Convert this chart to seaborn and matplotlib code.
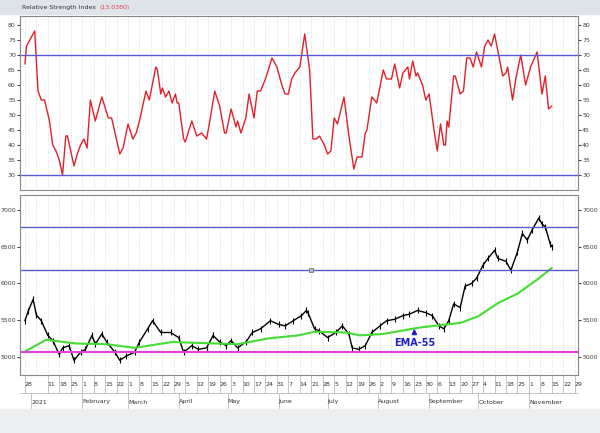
import matplotlib
matplotlib.use("Agg")
import matplotlib.pyplot as plt
import numpy as np
import pandas as pd
import seaborn as sns

START = pd.Timestamp("2020-12-28")

# RSI(13): days since 28 Dec 2020 and value
rsi_day = [0, 1, 6, 8, 10, 12, 15, 17, 19, 21, 23, 25, 26, 28, 30, 32, 34, 36, 38, 40, 43, 47, 51, 53,
           58, 60, 63, 66, 68, 70, 74, 76, 80, 81, 83, 84, 86, 88, 90, 92, 93, 94, 97, 98, 102, 105,
           108, 111, 113, 116, 119, 122, 123, 126, 129, 130, 132, 135, 137, 140, 142, 144, 147, 151,
           154, 157, 159, 161, 163, 165, 168, 171, 174, 176, 178, 180, 183, 185, 187, 189, 191, 195,
           198, 201, 203, 206, 208, 209, 212, 215, 219, 221, 224, 226, 229, 231, 234, 235, 237, 239,
           240, 243, 245, 247, 250, 252, 254, 256, 257, 258, 259, 262, 263, 266, 268, 270, 272, 274,
           276, 279, 281, 283, 285, 287, 292, 294, 295, 298, 300, 303, 306, 309, 313, 316, 318, 320, 322]
rsi_val = [67, 73, 78, 58, 55, 55, 48, 40, 38, 35, 30, 43, 43, 38, 33, 37, 40, 42, 39, 55, 48, 56, 49, 49,
           37, 39, 47, 42, 44, 48, 58, 55, 66, 65, 57, 59, 56, 58, 54, 57, 54, 54, 42, 41, 48, 43,
           44, 42, 48, 58, 53, 44, 44, 52, 46, 48, 44, 49, 57, 49, 58, 58, 62, 69,
           66, 60, 57, 57, 62, 64, 66, 77, 65, 42, 42, 43, 40, 37, 38, 49, 47, 56,
           43, 32, 36, 36, 44, 45, 56, 54, 65, 62, 62, 67, 59, 64, 66, 62, 68, 63,
           64, 60, 55, 57, 45, 38, 47, 40, 40, 48, 46, 63, 63, 57, 58, 69, 69, 66,
           71, 66, 73, 75, 73, 77, 63, 64, 66, 55, 62, 70, 60, 66, 71, 57, 63, 52, 53]

# closing price
px_day = [0, 2, 5, 7, 10, 14, 17, 21, 23, 27, 30, 34, 37, 41, 43, 47, 50, 55, 58, 62, 67, 70, 75, 78,
          83, 89, 94, 97, 102, 106, 111, 115, 119, 123, 126, 130, 135, 139, 144, 150, 155, 159, 164,
          169, 172, 173, 177, 180, 185, 190, 194, 198, 200, 204, 208, 212, 217, 221, 226, 231, 235,
          240, 245, 249, 253, 256, 259, 262, 266, 269, 273, 276, 280, 283, 287, 289, 294, 297, 301,
          304, 307, 310, 314, 316, 318, 321, 322]
px_val = [5490, 5620, 5780, 5570, 5490, 5290, 5220, 5030, 5120, 5150, 4950, 5060, 5100, 5290, 5170, 5310,
          5200, 5060, 4950, 5010, 5060, 5200, 5380, 5490, 5330, 5330, 5260, 5060, 5150, 5100, 5120, 5290,
          5200, 5150, 5220, 5120, 5200, 5330, 5380, 5490, 5440, 5420, 5490, 5560, 5630, 5600, 5380, 5350,
          5260, 5330, 5420, 5310, 5120, 5100, 5150, 5330, 5420, 5490, 5510, 5560, 5580, 5630, 5600, 5560,
          5420, 5380, 5490, 5720, 5670, 5960, 6000, 6070, 6250, 6340, 6450, 6340, 6300, 6180, 6430, 6680,
          6590, 6730, 6890, 6810, 6770, 6540, 6500]

ema_day = [0, 13, 31, 50, 67, 90, 116, 130, 149, 167, 177, 196, 205, 219, 242, 254, 266, 277, 289, 301, 313, 322]
ema_val = [5070, 5230, 5180, 5170, 5120, 5200, 5180, 5170, 5250, 5290, 5340, 5330, 5290, 5310, 5400, 5430,
           5460, 5550, 5730, 5860, 6050, 6210]

rsi_levels = [30, 70]
price_levels = [6770, 6180]
support = 5065
rsi_ticks = [30, 35, 40, 45, 50, 55, 60, 65, 70, 75, 80]
price_ticks = [5000, 5500, 6000, 6500, 7000]
months = ["2021", "February", "March", "April", "May", "June", "July", "August",
          "September", "October", "November"]

rsi = pd.DataFrame({"date": START + pd.to_timedelta(rsi_day, "D"), "rsi": rsi_val})
px = pd.DataFrame({"date": START + pd.to_timedelta(px_day, "D"), "close": px_val})
ema = pd.DataFrame({"date": START + pd.to_timedelta(ema_day, "D"), "ema": ema_val})

sns.set_style("white")
plt.rcParams["font.family"] = ["DejaVu Sans"]

fig = plt.figure(figsize=(6, 4.33), dpi=100)
fig.patch.set_facecolor("white")
W, H = 600, 433


def box(l, t, w, h):
    return [l / W, 1 - (t + h) / H, w / W, h / H]


# title strip and bottom toolbar
fig.patches.append(plt.Rectangle((0, 1 - 14 / H), 1, 14 / H, transform=fig.transFigure,
                                 color="#dfe3ea", zorder=0))
fig.text(22 / W, 1 - 7 / H, "Relative Strength Index", fontsize=4.5, va="center", color="#333")
fig.text(100 / W, 1 - 7 / H, "(13.0380)", fontsize=4.5, va="center", color="#e04050")
fig.patches.append(plt.Rectangle((0, 0), 1, 24 / H, transform=fig.transFigure,
                                 color="#eceef0", zorder=0))

xmin, xmax = pd.Timestamp("2020-12-25"), pd.Timestamp("2021-12-01")
mondays = pd.date_range("2020-12-28", "2021-11-29", freq="7D")

ax1 = fig.add_axes(box(20, 16, 558, 174))
ax2 = fig.add_axes(box(20, 195, 558, 180))
for ax in (ax1, ax2):
    ax.set_xlim(xmin, xmax)
    ax.set_xticks(mondays)
    ax.set_xticklabels([])
    ax.grid(axis="x", color="#cccccc", linestyle=(0, (1, 2)), linewidth=0.6)
    ax.tick_params(axis="y", labelsize=4.5, length=2, colors="#444", left=True, right=True,
                   labelleft=True, labelright=True, pad=1)
    ax.tick_params(axis="x", length=0)
    for s in ax.spines.values():
        s.set_color("#888")
        s.set_linewidth(0.8)

sns.lineplot(data=rsi, x="date", y="rsi", ax=ax1, color="#e0202a", linewidth=1)
for lv in rsi_levels:
    ax1.axhline(lv, color="#5a5ad0", linewidth=1)
ax1.set_ylim(25, 83)
ax1.set_yticks(rsi_ticks)
ax1.set_xlabel("")
ax1.set_ylabel("")

sns.lineplot(data=px, x="date", y="close", ax=ax2, color="black", linewidth=1.0)
ax2.scatter(px["date"], px["close"], marker="|", s=18, color="black", linewidths=0.8)
sns.lineplot(data=ema, x="date", y="ema", ax=ax2, color="#44dd33", linewidth=1.5)
for lv in price_levels:
    ax2.axhline(lv, color="#5a5ad0", linewidth=1)
# small handle marker on the lower level line
ax2.scatter([pd.Timestamp("2021-06-21")], [price_levels[1]], marker="s", s=8,
            facecolor="#bbbbbb", edgecolor="#666666", linewidths=0.5, zorder=5)
ax2.axhline(support, color="#e040e0", linewidth=1.5)
ax2.set_ylim(4750, 7205)
ax2.set_yticks(price_ticks)
ax2.set_xlabel("")
ax2.set_ylabel("")
ax2.annotate("EMA-55", xy=(pd.Timestamp("2021-08-23"), 5420),
             xytext=(pd.Timestamp("2021-08-23"), 5180), ha="center", va="center",
             fontsize=7, color="#2020c0", fontweight="bold",
             arrowprops=dict(arrowstyle="-|>", color="#2020c0", lw=1.2))

# date axis
axd = fig.add_axes(box(20, 375, 558, 36))
axd.set_xlim(xmin, xmax)
axd.set_ylim(0, 2)
axd.axis("off")
for d in mondays:
    if d == pd.Timestamp("2021-01-04"):
        continue
    axd.text(d, 1.5, str(d.day), fontsize=4.5, color="#333", va="center", ha="left")
    axd.plot([d, d], [1, 2], color="#999", linewidth=0.4)
axd.axhline(1, color="#999", linewidth=0.4)
month_starts = pd.date_range("2021-01-01", "2021-11-01", freq="MS")
for d, name in zip(month_starts, months):
    axd.text(d, 0.5, name, fontsize=4.5, color="#333", va="center", ha="left")
    axd.plot([d, d], [0, 1], color="#999", linewidth=0.4)

fig.savefig("out.png", dpi=100)
